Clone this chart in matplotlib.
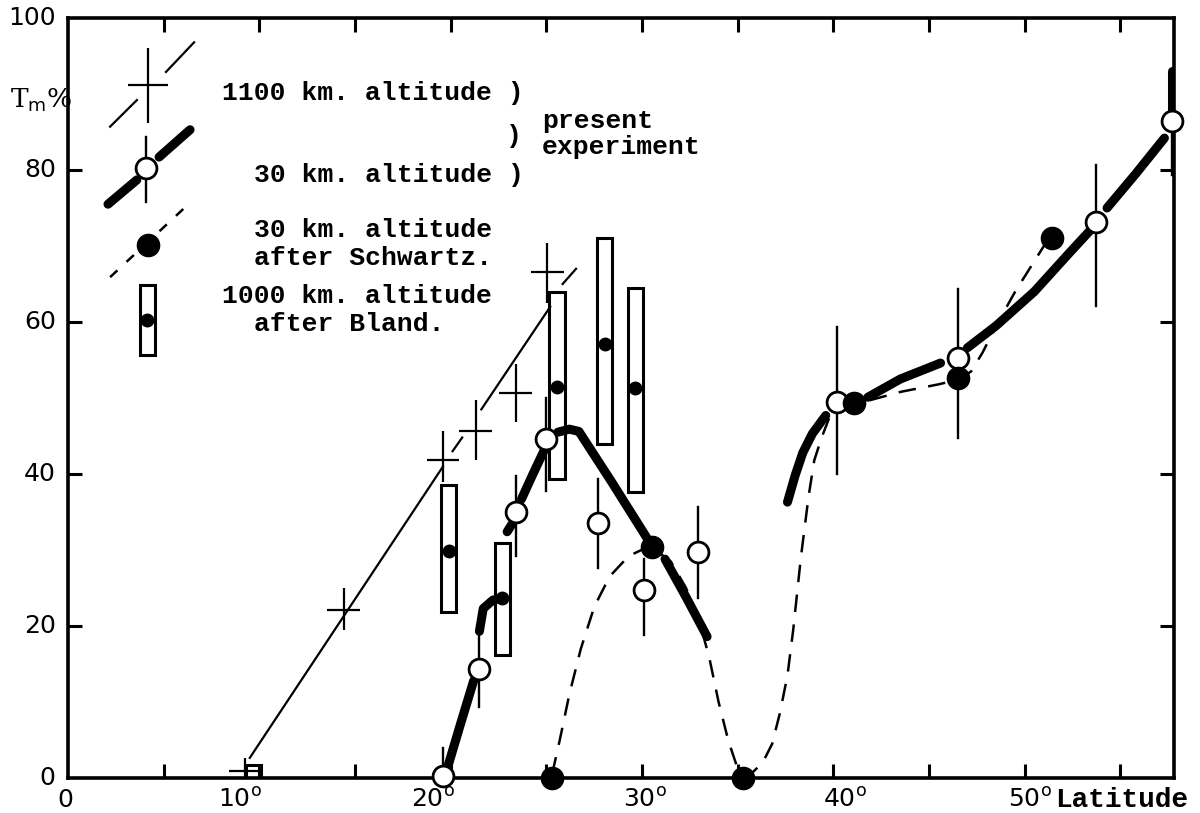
import matplotlib.pyplot as plt
from matplotlib.patches import Rectangle

# 1100 km. altitude (crosses) and the straight line drawn through them
cross_x = [9.25, 14.4, 19.6, 21.3, 23.4, 25.05]
cross_y = [0.9, 22.1, 41.8, 45.7, 50.6, 66.6]
cross_lo = [-0.5, 19.5, 39.0, 41.8, 46.9, 62.5]
cross_hi = [2.6, 25.0, 45.7, 49.7, 54.5, 70.4]
line1100_x = [[9.5, 19.6], [20.1, 20.6], [21.6, 25.2], [25.85, 26.55]]
line1100_y = [[2.65, 41.0], [43.0, 44.8], [48.5, 62.0], [65.0, 67.0]]

# 30 km. altitude, present experiment (open circles with error bars)
open_x = [19.6, 21.5, 23.4, 25.0, 27.7, 30.1, 32.9, 40.2, 46.5, 53.7, 57.7]
open_y = [0.3, 14.4, 35.0, 44.6, 33.6, 24.8, 29.8, 49.5, 55.3, 73.1, 86.4]
open_lo = [0.0, 9.3, 29.2, 37.8, 27.6, 18.8, 23.7, 40.0, 44.7, 62.1, 79.4]
open_hi = [4.0, 19.0, 39.7, 50.0, 39.4, 28.8, 35.7, 59.4, 64.3, 80.6, 87.0]

# hand drawn thick curve, broken where it meets the points
thick_x = [[19.85, 20.5, 21.2],
           [21.5, 21.7, 22.2, 22.75],
           [22.95, 23.2],
           [23.7, 24.3, 24.9],
           [25.6, 26.2, 26.7, 28.4, 30.4],
           [31.2, 32.3, 33.4],
           [37.6, 38.0, 38.4, 38.9, 39.6],
           [41.8, 43.5, 45.6],
           [47.0, 48.5, 50.5, 52.3, 53.4],
           [54.3, 55.8, 57.3],
           [57.7, 57.7]]
thick_y = [[1.5, 7.0, 12.8],
           [19.3, 22.3, 23.4, 23.7],
           [32.4, 33.4],
           [36.7, 40.0, 43.2],
           [45.5, 45.9, 45.6, 39.0, 31.0],
           [28.8, 23.8, 18.6],
           [36.3, 39.8, 42.8, 45.3, 47.7],
           [50.1, 52.5, 54.6],
           [56.6, 59.5, 64.0, 69.0, 72.0],
           [75.0, 79.5, 84.2],
           [87.0, 93.0]]

# 30 km. altitude after Schwartz (filled circles) and dashed curve
fill_x = [25.3, 30.5, 35.3, 41.1, 46.5, 51.4]
fill_y = [0.0, 30.4, 0.0, 49.4, 52.6, 71.0]
dash_x = [[25.3, 25.7, 26.2, 26.8, 27.5, 28.3, 29.3, 30.3, 30.7, 31.5, 32.3, 33.0,
           33.5, 34.0, 34.5, 35.0, 35.3, 35.8, 36.3, 36.8, 37.2, 37.6, 37.9, 38.3,
           38.7, 39.0, 39.4, 39.8, 40.2],
          [41.9, 43.5, 45.5, 46.5, 47.2, 47.8, 48.5, 49.5, 50.5, 51.2]]
dash_y = [[0.5, 5.0, 11.0, 17.0, 22.5, 26.5, 29.2, 30.4, 30.0, 28.5, 25.0, 20.5,
           16.0, 10.0, 5.0, 1.2, 0.3, 0.8, 2.0, 4.5, 8.5, 13.5, 19.5, 29.0,
           37.0, 41.8, 44.9, 47.5, 49.4],
          [49.7, 50.8, 51.8, 52.4, 53.5, 56.0, 59.5, 64.0, 68.0, 70.8]]

# 1000 km. altitude after Bland (open bars with a dot at the mean)
bland_x = [9.7, 19.9, 22.7, 25.55, 28.05, 29.65]
bland_lo = [0.0, 21.8, 16.2, 39.4, 43.9, 37.6]
bland_hi = [1.7, 38.5, 30.9, 64.0, 71.0, 64.5]
bland_mid = [None, 29.9, 23.7, 51.5, 57.1, 51.3]

THICK = 6.5
THIN = 1.6

fig = plt.figure(figsize=(12, 8.13), dpi=100)
ax = fig.add_axes([68 / 1200, 35 / 813, 1106 / 1200, 760 / 813])
ax.set_xlim(0, 57.8)
ax.set_ylim(0, 100)


def crosses(xs, ys, lo, hi, w=0.85):
    for x, y, a, b in zip(xs, ys, lo, hi):
        ax.plot([x - w, x + w], [y, y], color='k', lw=THIN, solid_capstyle='butt', zorder=4)
        ax.plot([x, x], [a, b], color='k', lw=THIN, solid_capstyle='butt', zorder=4)


def open_pts(xs, ys, lo, hi):
    for x, a, b in zip(xs, lo, hi):
        ax.plot([x, x], [a, b], color='k', lw=1.7, zorder=4)
    ax.plot(xs, ys, 'o', ms=15, mfc='white', mec='k', mew=2.0, zorder=6, clip_on=False)


def bland(xs, lo, hi, mid, w=0.8):
    for x, a, b, m in zip(xs, lo, hi, mid):
        ax.add_patch(Rectangle((x - w / 2, a), w, b - a, fill=False, ec='k', lw=2.2, zorder=3))
        if m is not None:
            ax.plot([x], [m], 'o', ms=9, color='k', zorder=3)


# data
for xs, ys in zip(line1100_x, line1100_y):
    ax.plot(xs, ys, color='k', lw=THIN, zorder=2)
crosses(cross_x, cross_y, cross_lo, cross_hi)
bland(bland_x, bland_lo, bland_hi, bland_mid)
for xs, ys in zip(thick_x, thick_y):
    ax.plot(xs, ys, color='k', lw=THICK, solid_capstyle='round', zorder=5)
for xs, ys in zip(dash_x, dash_y):
    ax.plot(xs, ys, color='k', lw=1.8, dashes=(7, 5), zorder=4)
open_pts(open_x, open_y, open_lo, open_hi)
ax.plot(fill_x, fill_y, 'o', ms=16, color='k', zorder=7, clip_on=False)

# legend symbols
crosses([4.18], [91.2], [86.2], [96.05], w=1.05)
ax.plot([2.2, 3.6], [85.7, 89.2], color='k', lw=THIN)
ax.plot([5.12, 6.59], [92.9, 96.8], color='k', lw=THIN)
ax.plot([2.09, 3.6], [75.5, 78.7], color='k', lw=THICK, solid_capstyle='round')
ax.plot([4.76, 6.38], [81.7, 85.3], color='k', lw=THICK, solid_capstyle='round')
open_pts([4.08], [80.3], [75.8], [84.3])
ax.plot([2.2, 6.38], [65.9, 75.7], color='k', lw=1.8, dashes=(4, 5))
ax.plot([4.18], [70.1], 'o', ms=16, color='k', zorder=7)
bland([4.15], [55.7], [64.9], [60.3])

mono = dict(family='Liberation Mono', fontsize=19, weight='bold', va='center')


def ftext(px, py, s, **kw):
    fig.text(px / 1200, 1 - py / 813, s, **{**mono, **kw})


ftext(222, 93, "1100 km. altitude )")
ftext(506, 136, ")")
ftext(254, 175, "30 km. altitude )")
ftext(542, 121, "present")
ftext(542, 147, "experiment")
ftext(254, 230, "30 km. altitude")
ftext(254, 258, "after Schwartz.")
ftext(222, 296, "1000 km. altitude")
ftext(254, 324, "after Bland.")
ftext(1055, 800, "Latitude", fontsize=20)
fig.text(10 / 1200, 1 - 100 / 813, r"T$_{\mathrm{m}}$%", fontsize=19,
         family='DejaVu Serif', va='center')

# axes frame and ticks
for s in ax.spines.values():
    s.set_linewidth(2.6)
ax.set_xticks([5 * i for i in range(1, 12)])
ax.set_yticks([20, 40, 60, 80])
ax.tick_params(which='both', direction='in', length=10, width=2.2,
               top=True, right=True, labelbottom=False, labelleft=False)

ylab = [0, 20, 40, 60, 80, 100]
for v in ylab:
    fig.text(56 / 1200 if v else 55 / 1200, (35 + 7.6 * v) / 813, str(v), fontsize=18,
             ha='right', va='center')

xlab = ["0", "10", "20", "30", "40", "50"]
xlab_pos = [65, 240, 433, 645, 845, 1030]
for s, px in zip(xlab, xlab_pos):
    t = s if s == "0" else s + r"$^{\mathrm{o}}$"
    fig.text(px / 1200, 1 - 800 / 813, t, fontsize=18, ha='center', va='center')

fig.savefig('out.png', dpi=100)
